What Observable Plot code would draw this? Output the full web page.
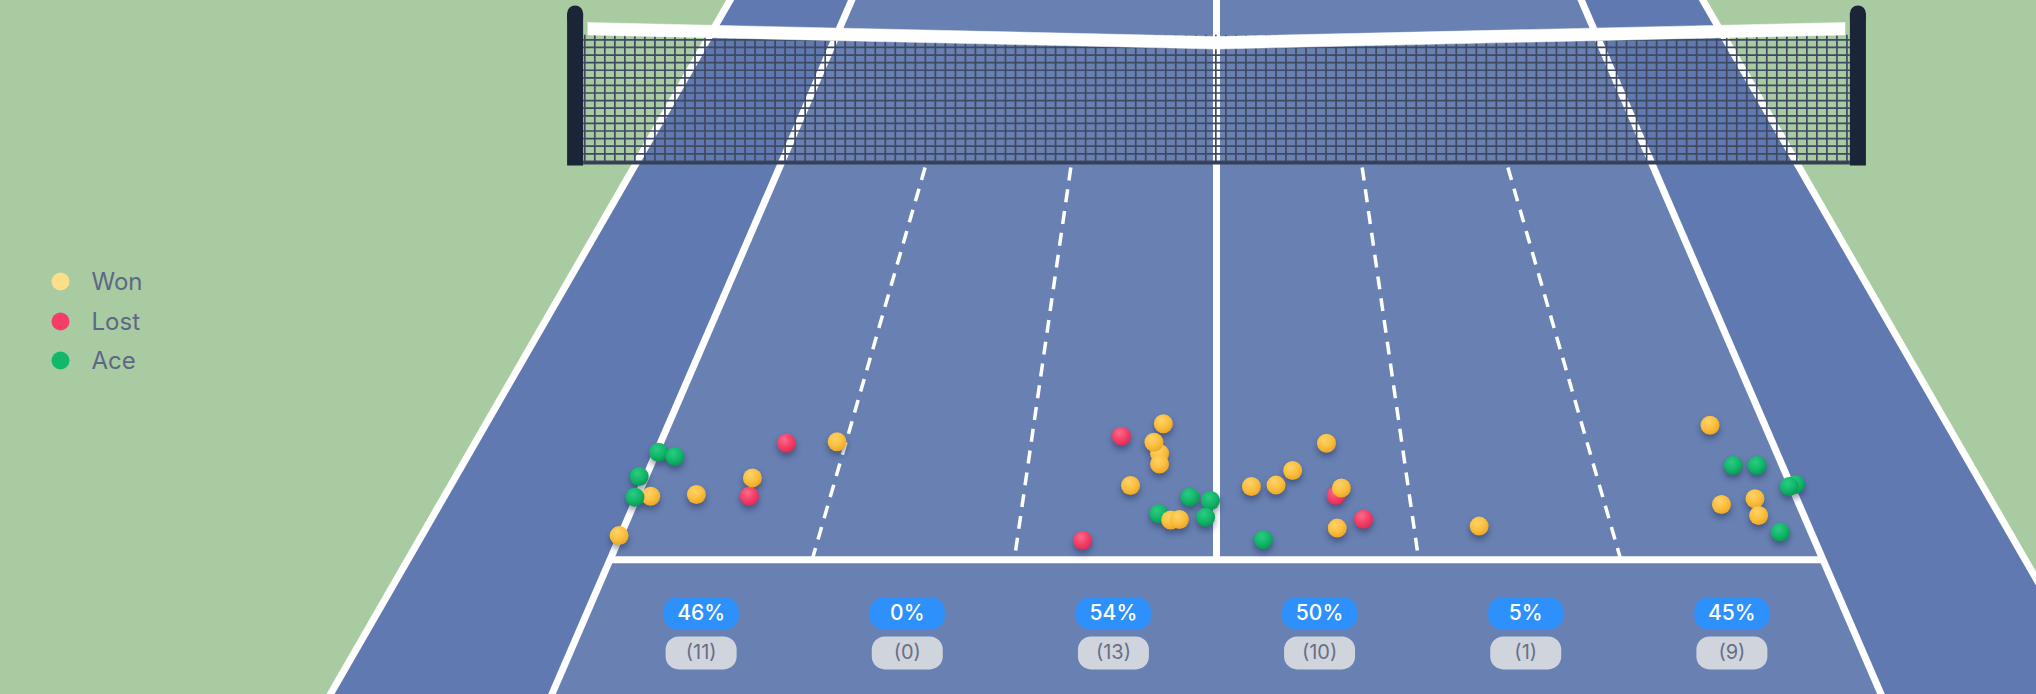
<!DOCTYPE html>
<html>
<head>
<meta charset="utf-8">
<script src="https://cdn.jsdelivr.net/npm/d3@7"></script>
<script src="https://cdn.jsdelivr.net/npm/@observablehq/plot@0.6"></script>
<style>
  html, body { margin: 0; padding: 0; background: #a9cba1; overflow: hidden; }
  #chart svg { display: block; overflow: hidden; }
</style>
</head>
<body>
<div id="chart"></div>
<script>
// ---------------- DATA (court units: feet; u = across from centre line, v = from net toward server) ----------------
const outcomes = ["Won", "Lost", "Ace"];

const serveU = [
  -13.19, -13.55, -13.45, -13.01, -13.66, -12.14, -10.44, -9.22, -10.89, -10.97, -13.53,
  -2.32, -1.37, -1.31, -1.52, -1.36, -2.02, -0.62, -0.14, -1.33, -1.05, -0.85, -0.25, -3.02,
  0.82, 1.40, 1.81, 2.67, 2.79, 2.93, 3.37, 2.75, 1.06,
  5.99,
  12.15, 12.33, 12.90, 13.62, 13.45, 11.70, 12.53, 12.46, 12.80
];
const serveV = [
  18.45, 18.49, 16.54, 16.73, 17.61, 18.38, 16.13, 16.07, 18.45, 17.67, 20.06,
  15.81, 16.60, 15.23, 16.09, 17.06, 18.00, 18.49, 18.63, 19.18, 19.43, 19.41, 19.32, 20.25,
  18.04, 17.98, 17.35, 16.13, 18.42, 18.10, 19.40, 19.76, 20.22,
  19.68,
  15.30, 17.13, 17.13, 17.95, 18.04, 18.80, 18.56, 19.25, 19.92
];
const serveOutcome = [
  "Won", "Ace", "Ace", "Ace", "Ace", "Won", "Lost", "Won", "Lost", "Won", "Won",
  "Lost", "Won", "Won", "Won", "Won", "Won", "Ace", "Ace", "Ace", "Won", "Won", "Ace", "Lost",
  "Won", "Won", "Won", "Won", "Lost", "Won", "Lost", "Won", "Ace",
  "Won",
  "Won", "Ace", "Ace", "Ace", "Ace", "Won", "Won", "Won", "Ace"
];

const zoneCenterU = [-11.25, -6.75, -2.25, 2.25, 6.75, 11.25];
const zonePercent = ["46%", "0%", "54%", "50%", "5%", "45%"];
const zoneCount = ["(11)", "(0)", "(13)", "(10)", "(1)", "(9)"];

// ---------------- COURT GEOMETRY (standard court, feet) ----------------
const SINGLES = 13.5, DOUBLES = 18, SERVICE = 21, FAR = -40, NEAR = 45;
const NET_END = 19.6, POST_U = 19.85, POST_HALF = 0.2476, POST_TOP = 3.72;
const NET_TOP_POST = 3.5, NET_TOP_CENTER = 3.157, BAND = 0.306;
const LABEL_V = 22.04;

// ---------------- PERSPECTIVE PROJECTION ----------------
const CENTER_X = 1216, HORIZON_Y = -845, DEPTH_K = 75548, EYE_V = 74.8, FOCAL_X = 2417, FOCAL_H = 3056;
const courtProjection = d3.geoTransform({
  point(u, v, h) {
    const w = EYE_V - v;
    this.stream.point(CENTER_X + FOCAL_X * u / w, HORIZON_Y + (DEPTH_K - FOCAL_H * (h || 0)) / w);
  }
});

// ---------------- derived tables ----------------
const serves = serveU.map((u, i) => ({u, v: serveV[i], outcome: serveOutcome[i]}));
const zones = zoneCenterU.map((u, i) => ({u, pct: zonePercent[i], count: zoneCount[i]}));

const rect = (u0, u1, v0, v1) => ({type: "Polygon", coordinates: [[[u0, v0], [u0, v1], [u1, v1], [u1, v0], [u0, v0]]]});
const seg = (a, b) => ({type: "LineString", coordinates: [a, b]});

const courtFill = [rect(-DOUBLES, DOUBLES, FAR, NEAR)];
const singlesFill = [rect(-SINGLES, SINGLES, FAR, NEAR)];
const solidLines = [
  seg([-DOUBLES, FAR], [-DOUBLES, NEAR]),
  seg([DOUBLES, FAR], [DOUBLES, NEAR]),
  seg([-SINGLES, FAR], [-SINGLES, NEAR]),
  seg([SINGLES, FAR], [SINGLES, NEAR]),
  seg([0, -SERVICE], [0, SERVICE]),
  seg([-SINGLES, SERVICE], [SINGLES, SERVICE]),
  seg([-SINGLES, -SERVICE], [SINGLES, -SERVICE])
];
const dashedLines = [-9, -4.5, 4.5, 9].map((u) => seg([u, 0.15], [u, SERVICE]));

const meshH = d3.range(0.1, 3.12, 0.186).map((h) => [[-NET_END, 0, h], [NET_END, 0, h]]);
const meshV = d3.range(-NET_END + 0.05, NET_END, 0.31).map((u) => [[u, 0, 0.07], [u, 0, 3.2]]);
const netMesh = [{type: "MultiLineString", coordinates: [...meshH, ...meshV]}];
const netBottom = [{type: "LineString", coordinates: [[-NET_END, 0, 0.06], [NET_END, 0, 0.06]]}];
const netBand = [{type: "Polygon", coordinates: [[
  [-19.45, 0, NET_TOP_POST], [0, 0, NET_TOP_CENTER], [19.45, 0, NET_TOP_POST],
  [19.45, 0, NET_TOP_POST - BAND], [0, 0, NET_TOP_CENTER - BAND], [-19.45, 0, NET_TOP_POST - BAND],
  [-19.45, 0, NET_TOP_POST]
]]}];
const postBodies = [-POST_U, POST_U].map((u) => ({type: "Polygon", coordinates: [[
  [u - POST_HALF, 0, 0], [u - POST_HALF, 0, POST_TOP], [u + POST_HALF, 0, POST_TOP], [u + POST_HALF, 0, 0], [u - POST_HALF, 0, 0]
]]}));
const postCaps = [-POST_U, POST_U].map((u) => ({type: "LineString", coordinates: [[u, 0, POST_TOP - 0.1], [u, 0, POST_TOP]]}));

// ---------------- styles ----------------
const ballFill = {Won: "url(#ball-won)", Lost: "url(#ball-lost)", Ace: "url(#ball-ace)"};
const legendColor = {Won: "#fedf89", Lost: "#f63d68", Ace: "#12b76a"};
const gradients = [
  ["ball-won", "#fdd36a", "#fbbf3d", "#eaa526"],
  ["ball-lost", "#fb6a8c", "#f43f66", "#d92b55"],
  ["ball-ace", "#2bcc83", "#12b76a", "#0a9553"]
];

function defsMark() {
  const defs = d3.create("svg:defs");
  for (const [id, c0, c1, c2] of gradients) {
    const g = defs.append("radialGradient").attr("id", id).attr("cx", "40%").attr("cy", "32%").attr("r", "72%");
    g.append("stop").attr("offset", "0%").attr("stop-color", c0);
    g.append("stop").attr("offset", "55%").attr("stop-color", c1);
    g.append("stop").attr("offset", "100%").attr("stop-color", c2);
  }
  return defs.node();
}

function pill(w, h, r) {
  return {
    draw(ctx) {
      const x0 = -w / 2, x1 = w / 2, y0 = -h / 2, y1 = h / 2;
      ctx.moveTo(x0 + r, y0);
      ctx.lineTo(x1 - r, y0);
      ctx.arc(x1 - r, y0 + r, r, -Math.PI / 2, 0);
      ctx.lineTo(x1, y1 - r);
      ctx.arc(x1 - r, y1 - r, r, 0, Math.PI / 2);
      ctx.lineTo(x0 + r, y1);
      ctx.arc(x0 + r, y1 - r, r, Math.PI / 2, Math.PI);
      ctx.lineTo(x0, y0 + r);
      ctx.arc(x0 + r, y0 + r, r, Math.PI, Math.PI * 1.5);
      ctx.closePath();
    }
  };
}

const legendTop = [281, 321, 360];
const legendMarks = outcomes.flatMap((o, i) => [
  Plot.dot([o], {frameAnchor: "top-left", dx: 60, dy: legendTop[i], r: 9, fill: legendColor[o], stroke: "none"}),
  Plot.text([o], {frameAnchor: "top-left", dx: 91, dy: legendTop[i] + 1, text: (d) => d, textAnchor: "start",
    lineAnchor: "middle", fill: "#5d6886", fontSize: 24, fontWeight: 400})
]);

const chart = Plot.plot({
  width: 2036,
  height: 694,
  margin: 0,
  projection: courtProjection,
  color: {type: "identity"},
  style: {background: "#a9cba1", fontFamily: "Inter, 'Noto Sans', sans-serif"},
  marks: [
    defsMark,
    Plot.geo(courtFill, {fill: "#6179b1", stroke: "none"}),
    Plot.geo(singlesFill, {fill: "#6880b2", stroke: "none"}),
    Plot.geo(solidLines, {fill: "none", stroke: "white", strokeWidth: 7, strokeLinecap: "butt"}),
    Plot.geo(dashedLines, {fill: "none", stroke: "white", strokeWidth: 3.5, strokeDasharray: "13,9", strokeLinecap: "butt"}),
    Plot.geo(netMesh, {fill: "none", stroke: "#3f4961", strokeWidth: 1.7, strokeLinecap: "butt"}),
    Plot.geo(netBottom, {fill: "none", stroke: "#344058", strokeWidth: 3, strokeLinecap: "butt"}),
    Plot.geo(netBand, {fill: "white", stroke: "white", strokeWidth: 0.5}),
    Plot.geo(postBodies, {fill: "#1b2538", stroke: "none"}),
    Plot.geo(postCaps, {fill: "none", stroke: "#1b2538", strokeWidth: 16, strokeLinecap: "round"}),
    Plot.dot(serves, {x: "u", y: "v", r: 9.5, fill: (d) => ballFill[d.outcome], stroke: "none",
      imageFilter: "drop-shadow(0px 4px 3px rgba(25, 35, 70, 0.45))"}),
    Plot.dot(zones, {x: "u", y: () => LABEL_V, dy: 26, symbol: pill(75, 32, 13), r: 1, fill: "#2e90fa", stroke: "none"}),
    Plot.text(zones, {x: "u", y: () => LABEL_V, dy: 26, text: "pct", fill: "white", fontSize: 21, fontWeight: 500}),
    Plot.dot(zones, {x: "u", y: () => LABEL_V, dy: 65.5, symbol: pill(71, 33, 13), r: 1, fill: "#d0d5dd", stroke: "none"}),
    Plot.text(zones, {x: "u", y: () => LABEL_V, dy: 65.5, text: "count", fill: "#667085", fontSize: 20, fontWeight: 400}),
    ...legendMarks
  ]
});

document.getElementById("chart").appendChild(chart);
</script>
</body>
</html>
